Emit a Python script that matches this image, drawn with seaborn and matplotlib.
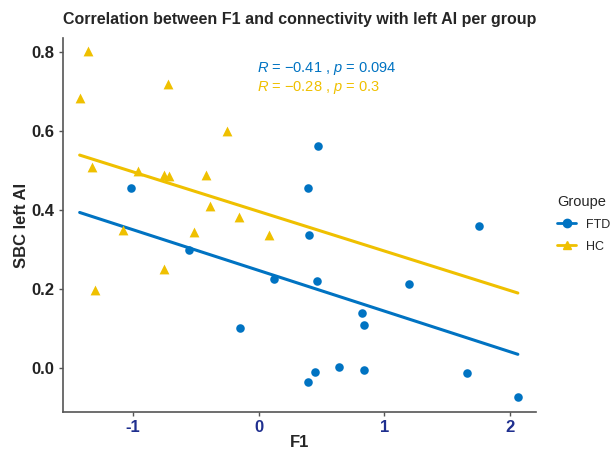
import numpy as np
import pandas as pd
import matplotlib
matplotlib.use("Agg")
import matplotlib.pyplot as plt
import seaborn as sns
from matplotlib.lines import Line2D

# data
ftd_f1 = [-1.019, 0.394, -0.557, 0.125, -0.152, 0.394, 0.402, 0.473, 1.758,
          0.467, 1.200, 0.821, 0.837, 0.451, 0.636, 0.839, 1.657, 2.064]
ftd_sbc = [0.455, 0.455, 0.299, 0.225, 0.101, -0.035, 0.337, 0.563, 0.360,
           0.221, 0.214, 0.141, 0.109, -0.010, 0.003, -0.003, -0.012, -0.072]
hc_f1 = [-1.363, -1.426, -0.725, -0.255, -1.328, -0.964, -0.752, -0.717,
         -0.418, -0.385, -0.157, -1.081, -0.519, 0.084, -0.755, -1.304]
hc_sbc = [0.802, 0.684, 0.718, 0.599, 0.510, 0.500, 0.489, 0.487,
          0.489, 0.411, 0.383, 0.349, 0.346, 0.337, 0.251, 0.198]
groups = ["FTD", "HC"]
cor_labels = ["$R$ = \u22120.41 , $p$ = 0.094", "$R$ = \u22120.28 , $p$ = 0.3"]

colors = {"FTD": "#0073C2", "HC": "#EFC000"}
markers = {"FTD": "o", "HC": "^"}

df = pd.DataFrame({
    "F1": ftd_f1 + hc_f1,
    "SBC": ftd_sbc + hc_sbc,
    "Groupe": ["FTD"] * len(ftd_f1) + ["HC"] * len(hc_f1),
})

sns.set_style("white")
plt.rcParams["font.family"] = ["Liberation Sans", "DejaVu Sans"]
plt.rcParams["mathtext.fontset"] = "custom"
plt.rcParams["mathtext.it"] = "Liberation Sans:italic"

fig = plt.figure(figsize=(6.1, 4.55), dpi=100)
ax = fig.add_axes([0.103, 0.0945, 0.776, 0.822])

# regression lines over the whole F1 range
ax.set_xlim(df["F1"].min(), df["F1"].max())
for g in groups:
    sub = df[df["Groupe"] == g]
    sns.regplot(data=sub, x="F1", y="SBC", ax=ax, ci=None, truncate=False,
                scatter=False, line_kws={"color": colors[g], "lw": 2.2, "zorder": 2})
for g in groups:
    sub = df[df["Groupe"] == g]
    sns.scatterplot(data=sub, x="F1", y="SBC", ax=ax, color=colors[g],
                    marker=markers[g], s=38 if g == "FTD" else 50,
                    linewidth=0, zorder=3, legend=False)

ax.set_xlim(-1.56, 2.21)
ax.set_ylim(-0.11, 0.835)
ax.set_xticks([-1, 0, 1, 2])
ax.set_xticklabels(["-1", "0", "1", "2"])
ax.set_yticks([0.0, 0.2, 0.4, 0.6, 0.8])
ax.set_yticklabels(["0.0", "0.2", "0.4", "0.6", "0.8"])

for side in ["top", "right"]:
    ax.spines[side].set_visible(False)
for side in ["left", "bottom"]:
    ax.spines[side].set_color("#555555")
    ax.spines[side].set_linewidth(1.2)
ax.tick_params(axis="both", length=3, width=1, color="#555555", direction="out",
               bottom=True, left=True, pad=3)
for lab in ax.get_xticklabels():
    lab.set_color("#1F2F8F")
    lab.set_fontweight("bold")
    lab.set_fontsize(12)
for lab in ax.get_yticklabels():
    lab.set_color("#222222")
    lab.set_fontweight("bold")
    lab.set_fontsize(12)

ax.set_xlabel("F1", fontsize=12, fontweight="bold", labelpad=0)
ax.set_ylabel("SBC left AI", fontsize=12, fontweight="bold", labelpad=2)
ax.set_title("Correlation between F1 and connectivity with left AI per group",
             fontsize=11.5, fontweight="bold", pad=10)

for i, g in enumerate(groups):
    ax.text(-0.01, 0.758 - i * 0.048, cor_labels[i], color=colors[g],
            fontsize=10.5, ha="left", va="center")

handles = [Line2D([0], [0], color=colors[g], lw=2, marker=markers[g], markersize=6)
           for g in groups]
leg = fig.legend(handles, groups, title="Groupe", loc="center left",
                 bbox_to_anchor=(0.895, 0.508), frameon=False, fontsize=9,
                 title_fontsize=10.5, handlelength=1.5, labelspacing=0.8)
leg._legend_box.align = "left"

fig.savefig("out.png", dpi=100)
